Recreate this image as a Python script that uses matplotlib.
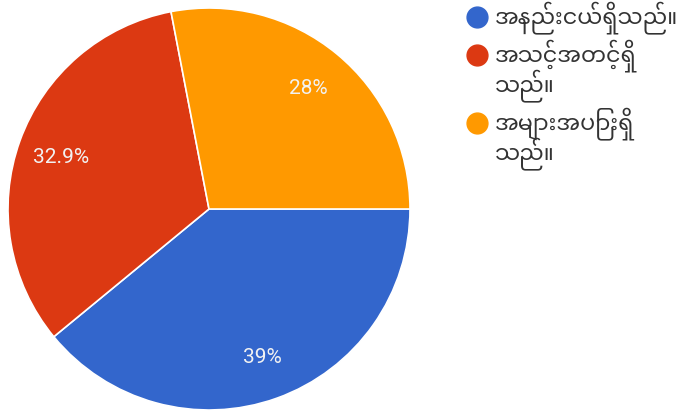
import matplotlib

matplotlib.use('Agg')
import matplotlib.pyplot as plt
import numpy as np
from matplotlib import font_manager

labels = ['အနည်းငယ်ရှိသည်။', 'အသင့်အတင့်ရှိ\nသည်။', 'အများအပြားရှိ\nသည်။']
values = [39.0, 32.9, 28.0]
pct_text = ['39%', '32.9%', '28%']
colors = ['#3366cc', '#dc3912', '#ff9900']

installed = {f.name for f in font_manager.fontManager.ttflist}
mm_family = [n for n in ['Noto Sans Myanmar', 'Myanmar Sans Pro', 'Myanmar Khyay']
             if n in installed][:1]
plt.rcParams['font.family'] = mm_family + ['Roboto', 'DejaVu Sans']

fig = plt.figure(figsize=(6.82, 4.14), dpi=100)

# pie
ax = fig.add_axes([8 / 682, 3 / 414, 402 / 682, 402 / 414])
wedges, _ = ax.pie(values, colors=colors, startangle=0, counterclock=False,
                   radius=1.0, wedgeprops={'edgecolor': 'white', 'linewidth': 1.2})
ax.set_xlim(-1, 1)
ax.set_ylim(-1, 1)
ax.set_aspect('equal')

start = 0.0
for v, t in zip(values, pct_text):
    mid = np.deg2rad(start - v * 3.6 / 2)
    ax.text(0.78 * np.cos(mid), 0.78 * np.sin(mid), t, color='#f2f2f2',
            fontsize=15, ha='center', va='center', family=['Roboto', 'DejaVu Sans'])
    start -= v * 3.6

# legend, laid out in pixel units
lax = fig.add_axes([0, 0, 1, 1])
lax.set_xlim(0, 682)
lax.set_ylim(414, 0)
lax.axis('off')

line_h = 30
y = 17.5
for lab, c in zip(labels, colors):
    lax.plot([477], [y], marker='o', markersize=15, color=c, linestyle='')
    for k, part in enumerate(lab.split('\n')):
        lax.text(495, y + k * line_h, part, fontsize=16, color='#333333',
                 ha='left', va='center')
    y += len(lab.split('\n')) * line_h + 8

fig.savefig('out.png', dpi=100, facecolor='white')
